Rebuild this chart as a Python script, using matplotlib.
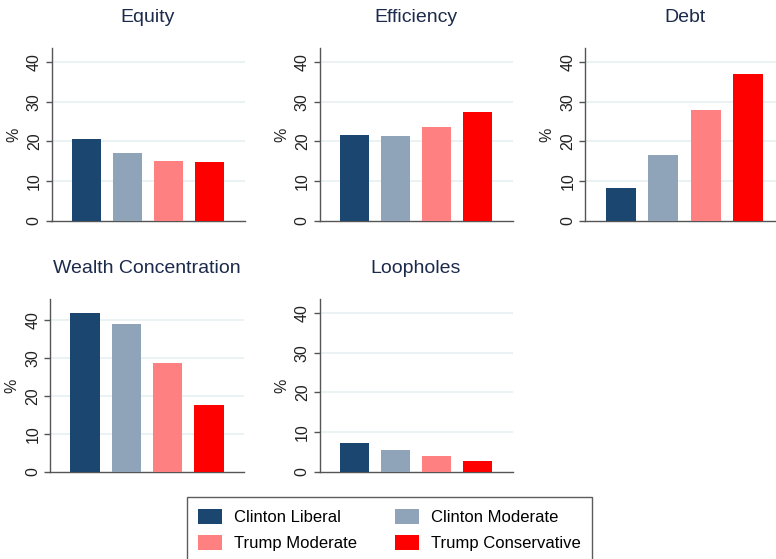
import matplotlib
matplotlib.use('Agg')
import matplotlib.pyplot as plt
from matplotlib.patches import Patch

plt.rcParams['font.family'] = ['Liberation Sans', 'DejaVu Sans']

# data
groups = ['Clinton Liberal', 'Clinton Moderate', 'Trump Moderate', 'Trump Conservative']
colors = ['#1b4670', '#8fa4b8', '#ff8080', '#ff0000']

panel_titles = ['Equity', 'Efficiency', 'Debt', 'Wealth Concentration', 'Loopholes']
equity = [20.6, 17.2, 15.1, 14.9]
efficiency = [21.6, 21.4, 23.6, 27.3]
debt = [8.2, 16.5, 28.0, 36.9]
wealth = [41.8, 38.8, 28.5, 17.5]
loopholes = [7.4, 5.5, 4.1, 2.8]
panel_values = [equity, efficiency, debt, wealth, loopholes]
panel_ymax = [43.5, 43.5, 43.5, 45.4, 43.5]
yticks = [0, 10, 20, 30, 40]

W, H = 776, 559
fig = plt.figure(figsize=(W / 100, H / 100), dpi=100)

# axes boxes in pixels: left, top, right, bottom
boxes = [
    (51.5, 48, 244.5, 221),
    (319.5, 48, 512.5, 221),
    (585, 48, 784, 221),
    (50, 299, 244, 472),
    (319.5, 299, 512.5, 472),
]

title_color = '#1c2a4c'
for box, title, vals, ymax in zip(boxes, panel_titles, panel_values, panel_ymax):
    l, t, r, b = box
    ax = fig.add_axes([l / W, 1 - b / H, (r - l) / W, (b - t) / H])
    x = list(range(len(vals)))
    ax.bar(x, vals, width=0.71, color=colors, edgecolor='none', zorder=3)
    ax.set_xlim(-0.85, 3.85)
    ax.set_ylim(0, ymax)
    ax.set_yticks(yticks)
    ax.set_xticks([])
    for yv in yticks[1:]:
        ax.axhline(yv, color='#e8f0f2', lw=1.2, zorder=1)
    for s in ['top', 'right']:
        ax.spines[s].set_visible(False)
    for s in ['left', 'bottom']:
        ax.spines[s].set_color('#555555')
        ax.spines[s].set_linewidth(1.0)
    ax.tick_params(axis='y', length=4, width=1, color='#555555', pad=3,
                   labelsize=11.5, labelcolor='#222222', labelrotation=90)
    for lab in ax.get_yticklabels():
        lab.set_va('center')
    ax.set_ylabel('%', fontsize=11.5, color='#222222', labelpad=4)
    ax.set_title(title, fontsize=14, color=title_color, pad=19)

handles = [Patch(facecolor=c, edgecolor='none') for c in colors]
order = [0, 2, 1, 3]
leg = fig.legend([handles[i] for i in order], [groups[i] for i in order],
                 ncol=2, loc='upper center', bbox_to_anchor=(389.5 / W, 1 - 497 / H),
                 borderaxespad=0, fontsize=12, frameon=True, fancybox=False,
                 edgecolor='#333333', handlelength=1.45, handleheight=1.0,
                 handletextpad=0.72, columnspacing=2.25, borderpad=0.7,
                 labelspacing=0.61)
leg.get_frame().set_linewidth(1.0)

fig.savefig('out.png', dpi=100)
